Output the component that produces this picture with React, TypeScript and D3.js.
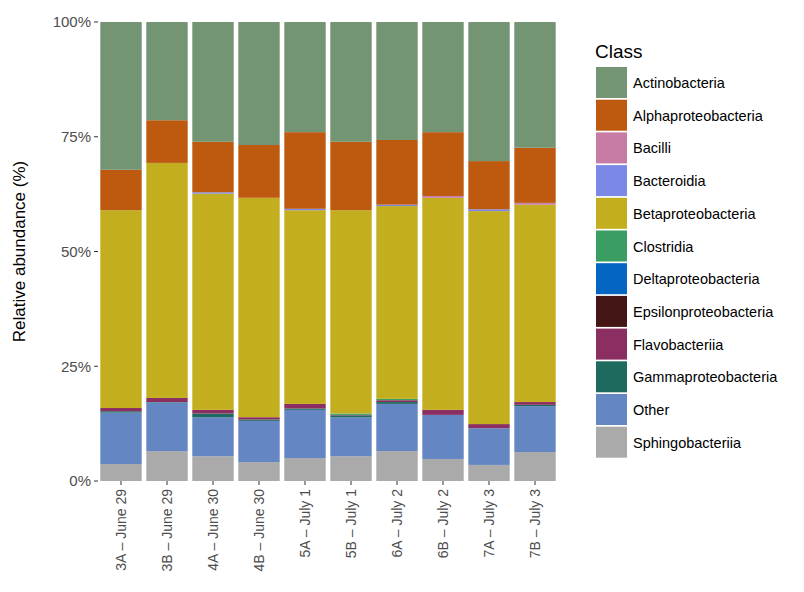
import * as d3 from "d3";

const samples = ["3A – June 29", "3B – June 29", "4A – June 30", "4B – June 30", "5A – July 1", "5B – July 1", "6A – July 2", "6B – July 2", "7A – July 3", "7B – July 3"];
const classes = ["Actinobacteria", "Alphaproteobacteria", "Bacilli", "Bacteroidia", "Betaproteobacteria", "Clostridia", "Deltaproteobacteria", "Epsilonproteobacteria", "Flavobacteriia", "Gammaproteobacteria", "Other", "Sphingobacteriia"];
const colors = ["#739574", "#bd5a10", "#c87ba4", "#7b88e6", "#c2ae1e", "#3a9e63", "#0565c2", "#431515", "#8b2e62", "#1e6a5e", "#6487c4", "#aaaaaa"];

// percent per sample, in legend order
const actino = [32.2, 21.4, 26.1, 26.8, 24.0, 26.1, 25.7, 24.0, 30.3, 27.4];
const alpha = [8.8, 9.3, 11.0, 11.5, 16.7, 14.9, 14.1, 13.9, 10.5, 12.0];
const bacilli = [0, 0, 0, 0, 0, 0, 0, 0.4, 0, 0.4];
const bacteroidia = [0, 0, 0.3, 0, 0.3, 0, 0.3, 0, 0.4, 0];
const beta = [43.1, 51.2, 47.1, 47.8, 42.2, 44.3, 42.0, 46.2, 46.4, 43.0];
const clostridia = [0, 0, 0, 0, 0, 0.3, 0.3, 0, 0, 0];
const delta = [0, 0, 0, 0, 0, 0, 0, 0, 0, 0];
const epsilon = [0, 0, 0, 0, 0, 0, 0, 0, 0, 0];
const flavo = [0.7, 0.9, 0.8, 0.5, 1.0, 0.1, 0.4, 1.1, 0.9, 0.6];
const gamma = [0.3, 0.1, 0.8, 0.3, 0.3, 0.4, 0.4, 0, 0, 0.3];
const other = [11.2, 10.6, 8.5, 9.0, 10.5, 8.5, 10.3, 9.6, 8.0, 10.0];
const sphingo = [3.7, 6.5, 5.4, 4.1, 5.0, 5.4, 6.5, 4.8, 3.5, 6.3];
const series = [actino, alpha, bacilli, bacteroidia, beta, clostridia, delta, epsilon, flavo, gamma, other, sphingo];

const yTicks = [0, 25, 50, 75, 100];

export default function App() {
  const W = 804, H = 592;
  const left = 98, right = 558, top = 22, bottom = 481;
  const x = d3.scaleBand().domain(samples).range([left, right]).paddingInner(0.1).paddingOuter(0.05);
  const y = d3.scaleLinear().domain([0, 100]).range([bottom, top]);
  const font = "Liberation Sans, Arial, sans-serif";

  const rects: JSX.Element[] = [];
  samples.forEach((s, i) => {
    const total = series.reduce((a, v) => a + v[i], 0);
    let acc = 0;
    for (let c = classes.length - 1; c >= 0; c--) {
      const v = (series[c][i] / total) * 100;
      if (v <= 0) continue;
      rects.push(<rect key={s + c} x={x(s)} width={x.bandwidth()} y={y(acc + v)} height={y(acc) - y(acc + v)} fill={colors[c]} />);
      acc += v;
    }
  });

  return (
    <svg width={W} height={H} style={{ position: "absolute", left: 0, top: 0, background: "#fff" }} fontFamily={font}>
      {rects}
      {yTicks.map((t) => (
        <g key={t}>
          <line x1={left - 4} x2={left} y1={y(t)} y2={y(t)} stroke="#333" />
          <text x={left - 7} y={y(t)} dy="0.35em" textAnchor="end" fontSize={15} fill="#4d4d4d">{t}%</text>
        </g>
      ))}
      {samples.map((s) => {
        const cx = x(s)! + x.bandwidth() / 2;
        return (
          <g key={s}>
            <line x1={cx} x2={cx} y1={bottom} y2={bottom + 4} stroke="#333" />
            <text transform={`translate(${cx},${bottom + 8}) rotate(-90)`} dy="0.35em" textAnchor="end" fontSize={14} fill="#4d4d4d">{s}</text>
          </g>
        );
      })}
      <text transform={`translate(25,${(top + bottom) / 2}) rotate(-90)`} textAnchor="middle" fontSize={17} fill="#000">Relative abundance (%)</text>
      <text x={595} y={58} fontSize={19} fill="#000">Class</text>
      {classes.map((c, i) => (
        <g key={c} transform={`translate(596,${67 + i * 32.7})`}>
          <rect width={31} height={31} fill={colors[i]} />
          <text x={37} y={16} dy="0.35em" fontSize={14.5} fill="#000">{c}</text>
        </g>
      ))}
    </svg>
  );
}
